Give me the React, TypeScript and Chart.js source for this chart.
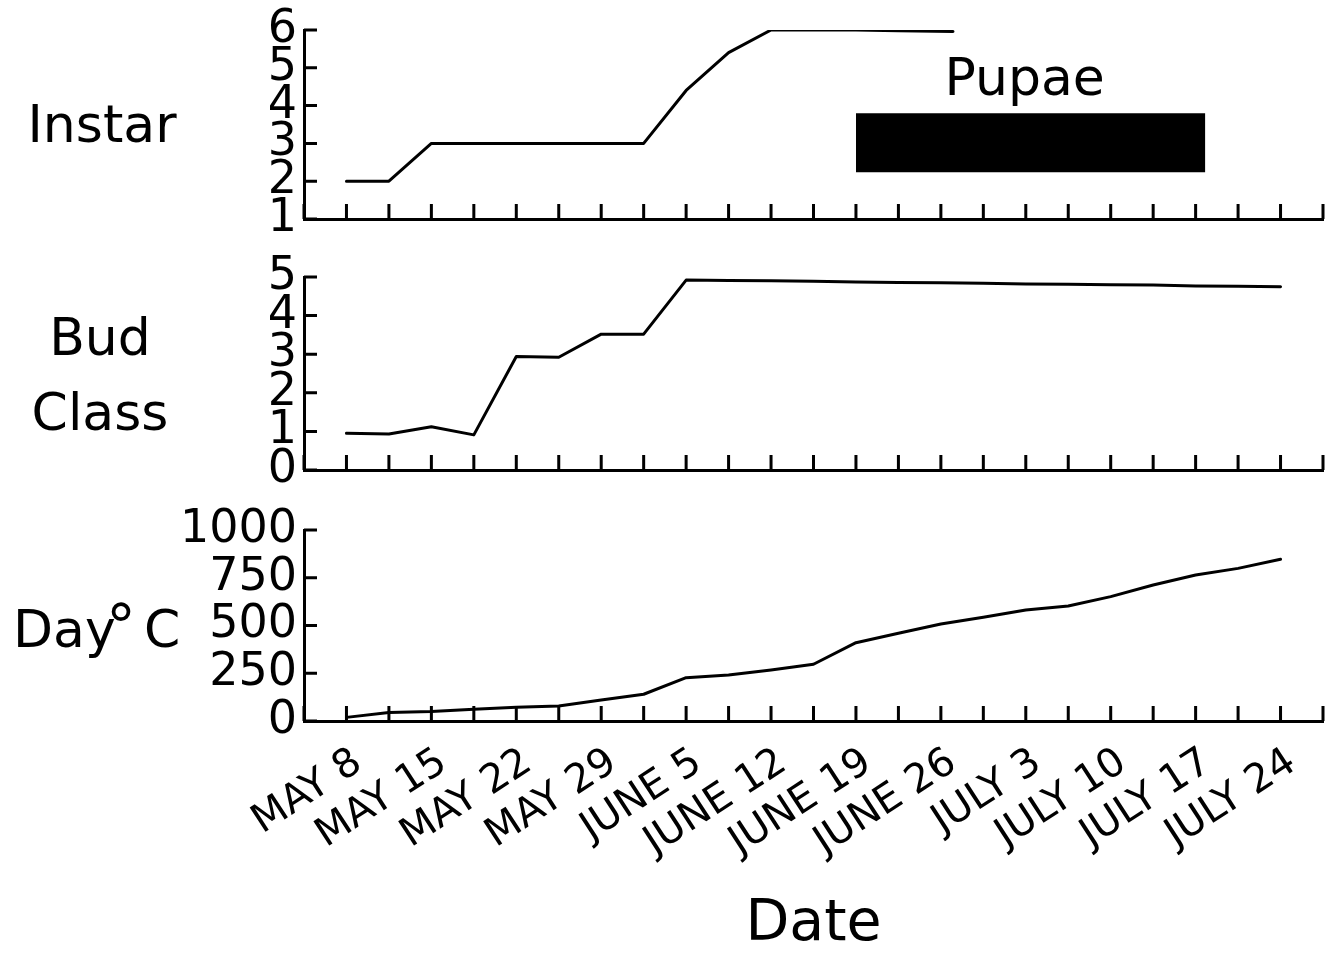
import React, { useEffect, useRef } from 'react';
import { Chart, registerables } from 'chart.js';

Chart.register(...registerables);

// ---------- data ----------
const dateLabels = ['MAY 8', 'MAY 15', 'MAY 22', 'MAY 29', 'JUNE 5', 'JUNE 12', 'JUNE 19', 'JUNE 26', 'JULY 3', 'JULY 10', 'JULY 17', 'JULY 24'];
const dateDays = [0, 7, 14, 21, 28, 35, 42, 49, 56, 63, 70, 77]; // days after May 8

const sampleDays = [0, 3.5, 7, 10.5, 14, 17.5, 21, 24.5, 28, 31.5, 35, 38.5, 42, 45.5, 49, 52.5, 56, 59.5, 63, 66.5, 70, 73.5, 77];

const instarDays = [0, 3.5, 7, 10.5, 14, 17.5, 21, 24.5, 28, 31.5, 35, 38.5, 42, 45.5, 50];
const instarValues = [2, 2, 3, 3, 3, 3, 3, 3, 4.4, 5.4, 6, 6, 6, 5.98, 5.96];

const budValues = [0.95, 0.93, 1.12, 0.91, 2.94, 2.92, 3.52, 3.52, 4.92, 4.91, 4.9, 4.89, 4.87, 4.86, 4.85, 4.84, 4.82, 4.81, 4.8, 4.79, 4.77, 4.76, 4.75];

const degreeDays = [19, 45, 50, 61, 72, 79, 110, 140, 227, 241, 267, 297, 410, 459, 508, 543, 581, 602, 651, 712, 764, 799, 847];

const pupaeDays = [42, 70.8];
const pupaeTop = [3.8, 3.8];
const pupaeBottom = [2.24, 2.24];
const pupaeLabel = 'Pupae';

const xMin = -3.5;
const xMax = 80.5;
const xStep = 3.5;

// ---------- helpers ----------
const FONT = '"DejaVu Sans", "Liberation Sans", sans-serif';
const pts = (xs: number[], ys: number[]) => xs.map((x, i) => ({ x, y: ys[i] }));
const labelFor = (v: number) => {
  const i = dateDays.indexOf(v);
  return i >= 0 ? dateLabels[i] : '';
};

const inwardTicks = {
  id: 'inwardTicks',
  afterDatasetsDraw(chart: any) {
    const { ctx, chartArea, scales } = chart;
    const xs = scales.x;
    const ys = scales.y;
    ctx.save();
    ctx.strokeStyle = '#000';
    ctx.lineWidth = 3;
    ctx.beginPath();
    ys.ticks.forEach((t: any) => {
      const p = ys.getPixelForValue(t.value);
      ctx.moveTo(chartArea.left, p);
      ctx.lineTo(chartArea.left + 13, p);
    });
    xs.ticks.forEach((t: any) => {
      const p = xs.getPixelForValue(t.value);
      ctx.moveTo(p, chartArea.bottom);
      ctx.lineTo(p, chartArea.bottom - 15);
    });
    ctx.stroke();
    ctx.restore();
  },
};

const panelText = {
  id: 'panelText',
  afterDraw(chart: any, _args: any, opts: any) {
    const { ctx } = chart;
    const items = (opts && opts.items) || [];
    ctx.save();
    ctx.fillStyle = '#000';
    ctx.textBaseline = 'alphabetic';
    items.forEach((it: any) => {
      ctx.font = `${it.size}px ${FONT}`;
      ctx.textAlign = it.align || 'left';
      ctx.fillText(it.text, it.x, it.y);
    });
    ctx.restore();
  },
};

const pupaeText = {
  id: 'pupaeText',
  afterDatasetsDraw(chart: any, _args: any, opts: any) {
    if (!opts || !opts.show) return;
    const { ctx, scales } = chart;
    const cx = scales.x.getPixelForValue((pupaeDays[0] + pupaeDays[1]) / 2);
    const top = scales.y.getPixelForValue(pupaeTop[0]);
    ctx.save();
    ctx.fillStyle = '#000';
    ctx.font = `52px ${FONT}`;
    ctx.textAlign = 'center';
    ctx.textBaseline = 'alphabetic';
    ctx.fillText(pupaeLabel, cx - 6, top - 18);
    ctx.restore();
  },
};

const lineDs = (data: any[]) => ({
  data,
  borderColor: '#000',
  borderWidth: 3,
  pointRadius: 0,
  tension: 0,
  fill: false,
  borderJoinStyle: 'round',
  borderCapStyle: 'round',
});

function makeOptions(p: any) {
  return {
    responsive: false,
    maintainAspectRatio: false,
    animation: false,
    events: [],
    layout: { padding: { top: p.padTop, bottom: p.padBottom, left: 0, right: 12 } },
    plugins: {
      legend: { display: false },
      tooltip: { enabled: false },
      panelText: { items: p.items },
      pupaeText: { show: !!p.pupae },
    },
    scales: {
      x: {
        type: 'linear',
        min: xMin,
        max: xMax,
        grid: { display: false, drawTicks: false },
        border: { display: true, color: '#000', width: 3 },
        ticks: {
          display: !!p.showX,
          stepSize: xStep,
          autoSkip: false,
          maxRotation: 33,
          minRotation: 33,
          color: '#000',
          font: { family: FONT, size: 40 },
          padding: 18,
          labelOffset: 12,
          callback: (v: any) => labelFor(Number(v)),
        },
        title: {
          display: !!p.showX,
          text: 'Date',
          color: '#000',
          font: { family: FONT, size: 57, lineHeight: 1 },
          padding: { top: 0, bottom: 2 },
        },
        afterFit: (s: any) => {
          s.height = p.xHeight;
          s.paddingLeft = 0;
          s.paddingRight = 0;
          s.paddingTop = 0;
          s.paddingBottom = 0;
        },
      },
      y: {
        type: 'linear',
        min: p.yMin,
        max: p.yMax,
        grid: { display: false, drawTicks: false },
        border: { display: true, color: '#000', width: 3 },
        ticks: {
          stepSize: p.yStep,
          autoSkip: false,
          color: '#000',
          font: { family: FONT, size: 46 },
          padding: 7,
          callback: (v: any) => String(v),
        },
        afterFit: (s: any) => {
          s.width = 304;
          s.paddingTop = 0;
          s.paddingBottom = 0;
          s.paddingLeft = 0;
          s.paddingRight = 0;
        },
      },
    },
  };
}

export default function App() {
  const c1 = useRef<HTMLCanvasElement>(null);
  const c2 = useRef<HTMLCanvasElement>(null);
  const c3 = useRef<HTMLCanvasElement>(null);

  useEffect(() => {
    const charts: Chart[] = [];

    charts.push(
      new Chart(c1.current as HTMLCanvasElement, {
        type: 'line',
        data: {
          datasets: [
            lineDs(pts(instarDays, instarValues)),
            {
              data: pts(pupaeDays, pupaeTop),
              borderWidth: 0,
              borderColor: 'rgba(0,0,0,0)',
              backgroundColor: '#000',
              pointRadius: 0,
              fill: '+1',
            },
            {
              data: pts(pupaeDays, pupaeBottom),
              borderWidth: 0,
              borderColor: 'rgba(0,0,0,0)',
              pointRadius: 0,
              fill: false,
            },
          ] as any,
        },
        options: makeOptions({
          padTop: 30,
          padBottom: 21,
          xHeight: 0,
          yMin: 1,
          yMax: 6,
          yStep: 1,
          pupae: true,
          items: [{ text: 'Instar', x: 102, y: 142, size: 52, align: 'center' }],
        }) as any,
        plugins: [inwardTicks, panelText, pupaeText] as any,
      })
    );

    charts.push(
      new Chart(c2.current as HTMLCanvasElement, {
        type: 'line',
        data: { datasets: [lineDs(pts(sampleDays, budValues))] as any },
        options: makeOptions({
          padTop: 37,
          padBottom: 20,
          xHeight: 0,
          yMin: 0,
          yMax: 5,
          yStep: 1,
          items: [
            { text: 'Bud', x: 100, y: 355 - 240, size: 52, align: 'center' },
            { text: 'Class', x: 100, y: 430 - 240, size: 52, align: 'center' },
          ],
        }) as any,
        plugins: [inwardTicks, panelText, pupaeText] as any,
      })
    );

    charts.push(
      new Chart(c3.current as HTMLCanvasElement, {
        type: 'line',
        data: { datasets: [lineDs(pts(sampleDays, degreeDays))] as any },
        options: makeOptions({
          padTop: 40,
          padBottom: 0,
          xHeight: 235,
          yMin: 0,
          yMax: 1000,
          yStep: 250,
          showX: true,
          items: [
            { text: 'Day', x: 13, y: 157, size: 52, align: 'left' },
            { text: '°', x: 121, y: 157, size: 60, align: 'center' },
            { text: 'C', x: 144, y: 157, size: 52, align: 'left' },
          ],
        }) as any,
        plugins: [inwardTicks, panelText, pupaeText] as any,
      })
    );

    return () => charts.forEach((c) => c.destroy());
  }, []);

  const cs: React.CSSProperties = { position: 'absolute', left: 0 };
  return (
    <div style={{ position: 'absolute', left: 0, top: 0, width: 1335, height: 956, background: '#fff' }}>
      <canvas ref={c1} width={1335} height={240} style={{ ...cs, top: 0 }} />
      <canvas ref={c2} width={1335} height={250} style={{ ...cs, top: 240 }} />
      <canvas ref={c3} width={1335} height={466} style={{ ...cs, top: 490 }} />
    </div>
  );
}
